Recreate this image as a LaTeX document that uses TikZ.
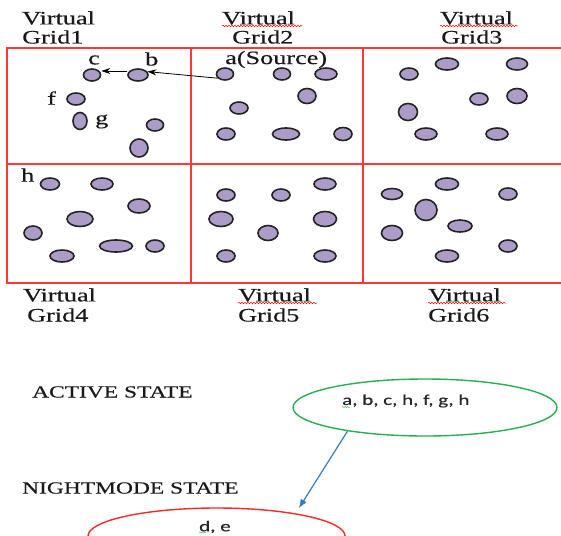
\documentclass[tikz,border=0pt]{standalone}
\usepackage{fontspec}
\usetikzlibrary{shapes.geometric,arrows.meta,decorations.pathmorphing}
\newfontfamily\serifw{Liberation Serif}[FakeStretch=1.38,FakeBold=0.4]
\newfontfamily\sansw{Carlito}[FakeStretch=1.4,FakeBold=0.3]
\definecolor{dotfill}{RGB}{172,156,200}
\definecolor{dotline}{RGB}{35,35,35}
\definecolor{gridred}{RGB}{255,55,55}
\definecolor{stgreen}{RGB}{40,175,85}
\definecolor{stred}{RGB}{250,40,40}
\definecolor{stblue}{RGB}{55,125,195}
\tikzset{
  pdot/.style 2 args={ellipse, draw=dotline, fill=dotfill, line width=1.6pt, inner sep=0pt, minimum width=#1, minimum height=#2},
  lbl/.style={anchor=west, inner sep=0pt, font=\serifw\fontsize{19}{19}\selectfont, text=black!90},
  stlbl/.style={anchor=west, inner sep=0pt, font=\serifw\fontsize{17}{17}\selectfont, text=black!90},
  sanslbl/.style={anchor=west, inner sep=0pt, font=\sansw\fontsize{15}{15}\selectfont, text=black!85},
  gridline/.style={draw=gridred, line width=1.4pt},
  squig/.style={decorate, decoration={snake, amplitude=0.7pt, segment length=3pt}, line width=0.5pt},
  arr/.style={draw=black, line width=0.8pt, -{Stealth[length=9pt,width=6pt]}},
  statebox/.style={ellipse, line width=1.4pt, inner sep=0pt},
}
\begin{document}
\begin{tikzpicture}[x=1pt,y=-1pt]
\useasboundingbox (0,0) rectangle (561,535);
\fill[white] (0,0) rectangle (561,535);
% grid
\draw[gridline] (561,48) -- (7,48) -- (7,283) -- (561,283);
\draw[gridline] (7,164) -- (561,164);
\draw[gridline] (191,48) -- (191,283);
\draw[gridline] (363,48) -- (363,283);
% top labels
\node[lbl] (v1) at (22,18) {Virtual};
\node[lbl] (g1) at (22,37) {Grid1};
\node[lbl] (v2) at (222,18) {Virtual};
\node[lbl] (g2) at (232,37) {Grid2};
\node[lbl] (v3) at (440,18) {Virtual};
\node[lbl] (g3) at (441,37) {Grid3};
% bottom labels
\node[lbl] (v4) at (23,295) {Virtual};
\node[lbl] (g4) at (27,315) {Grid4};
\node[lbl] (v5) at (238,295) {Virtual};
\node[lbl] (g5) at (238,315) {Grid5};
\node[lbl] (v6) at (428,295) {Virtual};
\node[lbl] (g6) at (428,315) {Grid6};
% spell-check squiggles
\draw[squig, red] (222,26) -- (302,26);
\draw[squig, red] (440,26) -- (518,26);
\draw[squig, red] (238,303) -- (317,303);
\draw[squig, red] (428,303) -- (506,303);
% cell 1
\node[pdot={17}{12}] (c) at (92,75) {};
\node[pdot={20}{12}] (b) at (138,75) {};
\node[pdot={18}{12}] (f) at (76,99) {};
\node[pdot={14}{17}] (g) at (80,121) {};
\node[pdot={17}{12}] (n15) at (155,125) {};
\node[pdot={18}{18}] (n16) at (139,148) {};
\node[lbl] (lc) at (88,60) {c};
\node[lbl] (lb) at (145,59) {b};
\node[lbl] (lf) at (47,98) {f};
\node[lbl] (lg) at (95,121.5) {g};
% cell 2
\node[pdot={17}{12}] (a) at (225,74) {};
\node[pdot={17}{12}] (n22) at (282,74) {};
\node[pdot={22}{12}] (n23) at (326,74) {};
\node[pdot={18}{15}] (n24) at (307,96) {};
\node[pdot={18}{12}] (n25) at (239,108) {};
\node[pdot={18}{12}] (n26) at (226,134) {};
\node[pdot={27}{12}] (n27) at (286,134) {};
\node[pdot={18}{13}] (n28) at (343,134) {};
\node[lbl] (la) at (225,59.5) {a(Source)};
% cell 3
\node[pdot={18}{12}] (n31) at (409,74) {};
\node[pdot={23}{12}] (n32) at (447,64) {};
\node[pdot={21}{12}] (n33) at (517,64) {};
\node[pdot={18}{12}] (n34) at (479,99) {};
\node[pdot={20}{15}] (n35) at (517,96) {};
\node[pdot={19}{17}] (n36) at (408,112) {};
\node[pdot={22}{12}] (n37) at (426,134) {};
\node[pdot={22}{12}] (n38) at (497,134) {};
% cell 4
\node[lbl] (lh) at (21,175) {h};
\node[pdot={19}{12}] (h) at (50,184) {};
\node[pdot={22}{12}] (n42) at (102,184) {};
\node[pdot={22}{14}] (n43) at (139,206) {};
\node[pdot={26}{15}] (n44) at (80,219) {};
\node[pdot={18}{14}] (n45) at (33,233) {};
\node[pdot={33}{12}] (n46) at (116,246) {};
\node[pdot={18}{12}] (n47) at (155,246) {};
\node[pdot={24}{12}] (n48) at (62,256) {};
% cell 5
\node[pdot={18}{12}] (n51) at (226,195) {};
\node[pdot={18}{12}] (n52) at (281,195) {};
\node[pdot={22}{12}] (n53) at (325,184) {};
\node[pdot={24}{15}] (n54) at (221,219) {};
\node[pdot={23}{15}] (n55) at (325,219) {};
\node[pdot={20}{15}] (n56) at (268,233) {};
\node[pdot={18}{12}] (n57) at (226,256) {};
\node[pdot={22}{12}] (n58) at (325,256) {};
% cell 6
\node[pdot={21}{11}] (n61) at (392,194) {};
\node[pdot={23}{12}] (n62) at (447,184) {};
\node[pdot={18}{12}] (n63) at (508,194) {};
\node[pdot={22}{21}] (n64) at (426,210) {};
\node[pdot={24}{12}] (n65) at (460,226) {};
\node[pdot={21}{15}] (n66) at (392,233) {};
\node[pdot={18}{12}] (n67) at (508,246) {};
\node[pdot={23}{12}] (n68) at (447,256) {};
% arrows in grid
\draw[arr] (a.210) -- (b.20);
\draw[arr] ([yshift=4pt]b.west) -- ([yshift=4pt]c.east);
% states
\node[stlbl] (act) at (32,392) {ACTIVE STATE};
\node[stlbl] (night) at (22,488) {NIGHTMODE STATE};
\node[statebox, draw=stgreen, minimum width=264, minimum height=57] (green) at (425,407.5) {};
\node[statebox, draw=stred, minimum width=257, minimum height=56] (red) at (216.5,536) {};
\node[sanslbl] (actset) at (342,401) {a, b, c, h, f, g, h};
\node[sanslbl] (nightset) at (199,527) {d, e};
\draw[squig, stgreen, line width=0.4pt, decoration={snake, amplitude=0.6pt, segment length=2.5pt}] (342,407) -- (350,407);
\draw[squig, stgreen, line width=0.4pt, decoration={snake, amplitude=0.6pt, segment length=2.5pt}] (199,532.5) -- (206,532.5);
\draw[draw=stblue, line width=1.2pt, -{Latex[length=9pt,width=7pt]}, shorten >=6pt] (green.197) -- (red.16);
\end{tikzpicture}
\end{document}
